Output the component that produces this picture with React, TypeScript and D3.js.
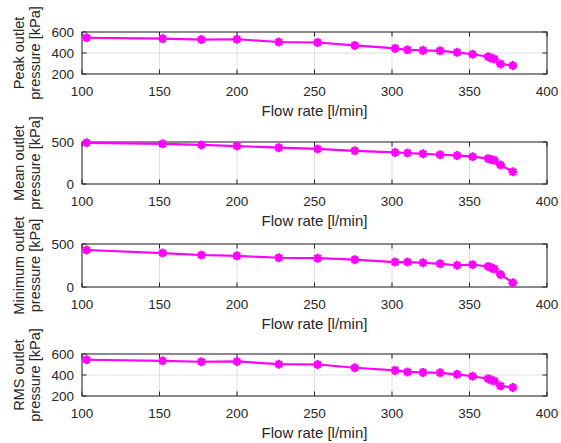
import React from "react";
import * as d3 from "d3";

const flowRate = [103, 152, 177, 200, 227, 252, 276, 302, 310, 320, 331, 342, 352, 362, 364, 366, 370, 378];
const peakPressure = [545, 537, 528, 531, 505, 500, 472, 444, 430, 425, 421, 406, 388, 364, 352, 342, 296, 281];
const meanPressure = [490, 478, 465, 452, 433, 417, 395, 376, 368, 360, 348, 340, 325, 302, 292, 282, 226, 145];
const minPressure = [430, 395, 372, 362, 340, 335, 318, 290, 290, 282, 270, 253, 260, 238, 225, 208, 145, 50];
const rmsPressure = [545, 535, 526, 529, 503, 500, 469, 444, 429, 425, 421, 406, 388, 364, 352, 342, 296, 281];

const xTicks = [100, 150, 200, 250, 300, 350, 400];
const yTicksPeak = [200, 400, 600];
const yTicksMean = [0, 500];
const yTicksMin = [0, 500];
const yTicksRms = [200, 400, 600];

const xLabel = "Flow rate [l/min]";
const yLabels = [
  ["Peak outlet", "pressure [kPa]"],
  ["Mean outlet", "pressure [kPa]"],
  ["Minimum outlet", "pressure [kPa]"],
  ["RMS outlet", "pressure [kPa]"],
];

const panels = [
  { values: peakPressure, yDomain: [200, 600], yTicks: yTicksPeak, top: 32, bottom: 74 },
  { values: meanPressure, yDomain: [0, 500], yTicks: yTicksMean, top: 142, bottom: 184 },
  { values: minPressure, yDomain: [0, 500], yTicks: yTicksMin, top: 244, bottom: 287 },
  { values: rmsPressure, yDomain: [200, 600], yTicks: yTicksRms, top: 354, bottom: 396 },
];

const LEFT = 82;
const RIGHT = 547;
const AXIS = "#262626";
const GRID = "#dfdfdf";
const MAG = "#ff00ff";
const FONT = "'Liberation Sans', Arial, Helvetica, sans-serif";

function Panel({ p, labels }: { p: any; labels: string[] }) {
  const x = d3.scaleLinear().domain([100, 400]).range([LEFT, RIGHT]);
  const y = d3.scaleLinear().domain(p.yDomain).range([p.bottom, p.top]);
  const line = d3
    .line<number>()
    .x((_, i) => x(flowRate[i]))
    .y((v) => y(v));
  const tick = 4.5;
  const r = 4.5;
  const d = r * 0.7071;
  const midY = (p.top + p.bottom) / 2;
  return (
    <g>
      <rect x={LEFT} y={p.top} width={RIGHT - LEFT} height={p.bottom - p.top} fill="#fff" />
      {xTicks.map((t) => (
        <line key={"gx" + t} x1={x(t)} x2={x(t)} y1={p.top} y2={p.bottom} stroke={GRID} strokeWidth={1} />
      ))}
      {p.yTicks.map((t: number) => (
        <line key={"gy" + t} x1={LEFT} x2={RIGHT} y1={y(t)} y2={y(t)} stroke={GRID} strokeWidth={1} />
      ))}
      {xTicks.map((t) => (
        <g key={"tx" + t}>
          <line x1={x(t)} x2={x(t)} y1={p.bottom} y2={p.bottom - tick} stroke={AXIS} strokeWidth={1} />
          <line x1={x(t)} x2={x(t)} y1={p.top} y2={p.top + tick} stroke={AXIS} strokeWidth={1} />
          <text x={x(t)} y={p.bottom + 21.5} textAnchor="middle" fontSize={13.5} fill={AXIS} fontFamily={FONT}>
            {t}
          </text>
        </g>
      ))}
      {p.yTicks.map((t: number) => (
        <g key={"ty" + t}>
          <line x1={LEFT} x2={LEFT + tick} y1={y(t)} y2={y(t)} stroke={AXIS} strokeWidth={1} />
          <line x1={RIGHT} x2={RIGHT - tick} y1={y(t)} y2={y(t)} stroke={AXIS} strokeWidth={1} />
          <text x={LEFT - 8} y={y(t)} dy="0.36em" textAnchor="end" fontSize={13.5} fill={AXIS} fontFamily={FONT}>
            {t}
          </text>
        </g>
      ))}
      <rect x={LEFT} y={p.top} width={RIGHT - LEFT} height={p.bottom - p.top} fill="none" stroke={AXIS} strokeWidth={1} />
      <path d={line(p.values) || ""} fill="none" stroke={MAG} strokeWidth={2.2} strokeLinejoin="round" />
      {p.values.map((v: number, i: number) => {
        const cx = x(flowRate[i]);
        const cy = y(v);
        return (
          <path
            key={"m" + i}
            d={`M${cx - r},${cy}H${cx + r}M${cx},${cy - r}V${cy + r}M${cx - d},${cy - d}L${cx + d},${cy + d}M${cx - d},${cy + d}L${cx + d},${cy - d}`}
            stroke={MAG}
            strokeWidth={2.4}
            fill="none"
          />
        );
      })}
      <text x={(LEFT + RIGHT) / 2} y={p.bottom + 42} textAnchor="middle" fontSize={15} fill={AXIS} fontFamily={FONT}>
        {xLabel}
      </text>
      <text transform={`translate(24,${midY}) rotate(-90)`} textAnchor="middle" fontSize={14.5} fill={AXIS} fontFamily={FONT}>
        {labels[0]}
      </text>
      <text transform={`translate(40,${midY}) rotate(-90)`} textAnchor="middle" fontSize={14.5} fill={AXIS} fontFamily={FONT}>
        {labels[1]}
      </text>
    </g>
  );
}

export default function App() {
  return (
    <svg width={561} height={443} style={{ position: "absolute", left: 0, top: 0, background: "#fff" }}>
      <rect width={561} height={443} fill="#fff" />
      {panels.map((p, i) => (
        <Panel key={i} p={p} labels={yLabels[i]} />
      ))}
    </svg>
  );
}
